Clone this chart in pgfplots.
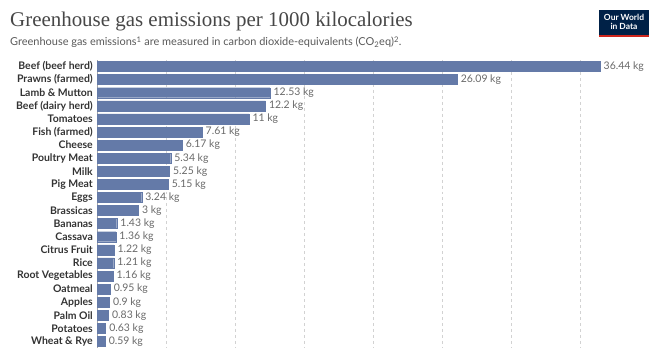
\documentclass[border=0pt]{standalone}
\usepackage{fontspec}
\setmainfont{Lato}
\newfontfamily\titlefont{Liberation Serif}
\usepackage{pgfplots}
\pgfplotsset{compat=1.18}
\definecolor{barblue}{RGB}{100,122,168}
\definecolor{owidnavy}{RGB}{0,33,71}
\definecolor{owidred}{RGB}{206,38,29}
\definecolor{labelgray}{RGB}{105,105,105}
\definecolor{textdark}{RGB}{51,51,51}
\begin{document}
\begin{tikzpicture}
\path[use as bounding box] (0bp,0bp) rectangle (662bp,348bp);
\node[anchor=base west, inner sep=0, font=\titlefont\fontsize{21}{24}\selectfont, text=black!72] at (10bp,321bp) {Greenhouse gas emissions per 1000 kilocalories};
\node[anchor=base west, inner sep=0, font=\fontsize{11}{13}\selectfont, text=black!65] at (10bp,302bp) {Greenhouse gas emissions\textsuperscript{1} are measured in carbon dioxide-equivalents (CO\textsubscript{2}eq)\textsuperscript{2}.};
\fill[owidnavy] (599bp,311bp) rectangle (649bp,338bp);
\fill[owidred] (599bp,311bp) rectangle (649bp,313bp);
\node[text=white, font=\bfseries\fontsize{8.5}{9}\selectfont, align=center, inner sep=0] at (624bp,326bp) {Our World\\in Data};
\begin{axis}[
  at={(97bp,0bp)}, anchor=south west, scale only axis,
  width=503bp, height=288bp,
  xmin=0, xmax=36.44, ymin=-0.5, ymax=21.5, y dir=reverse,
  xbar, bar width=10bp, clip=false,
  axis lines*=left,
  x axis line style={draw=none},
  y axis line style={draw=gray!70},
  major tick length=0pt,
  xtick={5,10,...,35}, xticklabels={},
  xmajorgrids, grid style={dashed, gray!35},
  ytick={0,...,21},
  yticklabels={Beef (beef herd),Prawns (farmed),Lamb \& Mutton,Beef (dairy herd),Tomatoes,Fish (farmed),Cheese,Poultry Meat,Milk,Pig Meat,Eggs,Brassicas,Bananas,Cassava,Citrus Fruit,Rice,Root Vegetables,Oatmeal,Apples,Palm Oil,Potatoes,Wheat \& Rye},
  yticklabel style={font=\bfseries\fontsize{10.5}{12}\selectfont, text=textdark, inner xsep=4bp},
  /pgf/number format/assume math mode=true,
  point meta=x,
  nodes near coords={\pgfmathprintnumber[fixed,precision=2]{\pgfplotspointmeta}~kg},
  nodes near coords style={font=\fontsize{10.5}{12}\selectfont, text=labelgray, anchor=west, inner xsep=3.5bp},
]
\addplot[fill=barblue, draw=barblue] coordinates {
(36.44,0) (26.09,1) (12.53,2) (12.2,3) (11,4) (7.61,5) (6.17,6) (5.34,7) (5.25,8) (5.15,9) (3.24,10) (3,11) (1.43,12) (1.36,13) (1.22,14) (1.21,15) (1.16,16) (0.95,17) (0.9,18) (0.83,19) (0.63,20) (0.59,21)
};
\end{axis}
\end{tikzpicture}
\end{document}
